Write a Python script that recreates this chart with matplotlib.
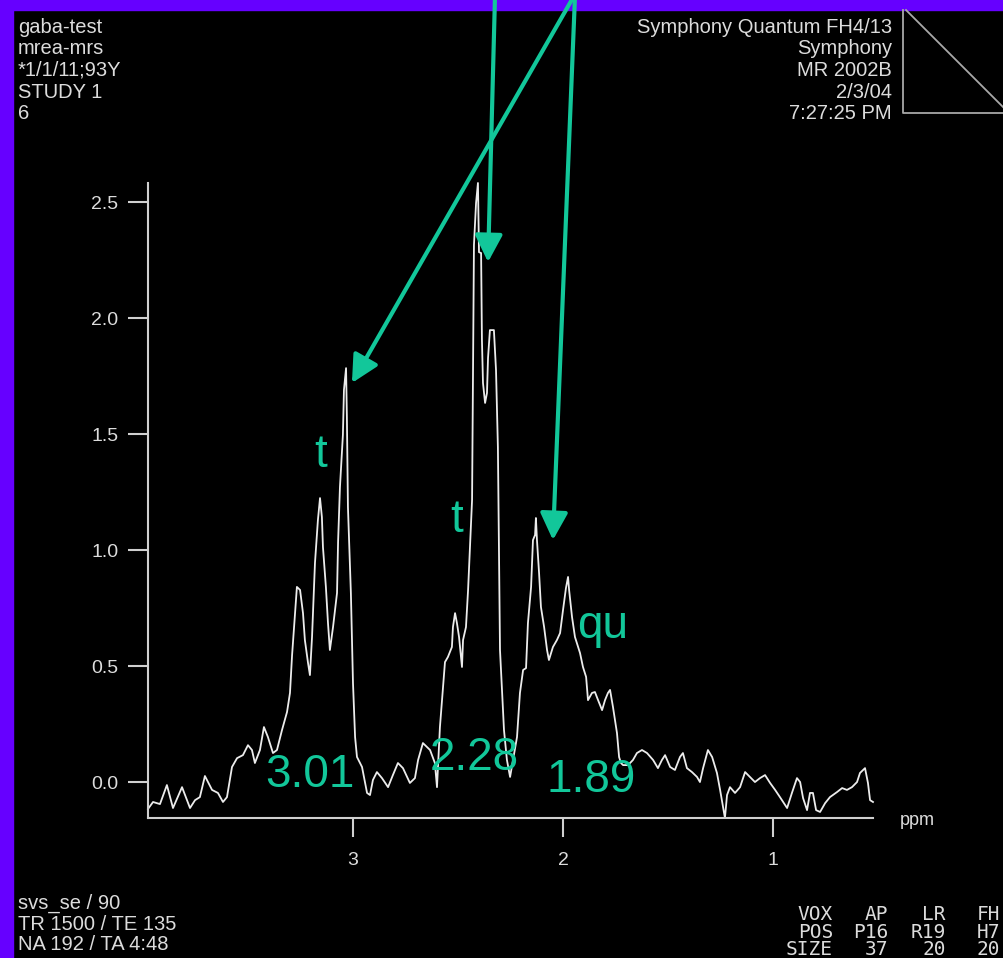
#Espectro MRS (gaba-test) - recreacion
import matplotlib
matplotlib.use('Agg')
import matplotlib.pyplot as plt
from matplotlib.patches import Rectangle
from matplotlib.lines import Line2D

#Datos del espectro
ppm = [3.976, 3.952, 3.919, 3.886, 3.857, 3.814, 3.776, 3.752, 3.729, 3.705,
       3.671, 3.643, 3.619, 3.600, 3.576, 3.552, 3.524, 3.500, 3.481, 3.467,
       3.443, 3.424, 3.405, 3.381, 3.362, 3.338, 3.314, 3.300, 3.290, 3.276,
       3.267, 3.252, 3.238, 3.229, 3.214, 3.205, 3.195, 3.181, 3.167, 3.157,
       3.148, 3.143, 3.129, 3.119, 3.110, 3.095, 3.076, 3.071, 3.062, 3.048,
       3.043, 3.033, 3.029, 3.024, 3.010, 3.000, 2.990, 2.981, 2.957, 2.933,
       2.919, 2.905, 2.886, 2.862, 2.833, 2.810, 2.786, 2.762, 2.729, 2.705,
       2.690, 2.667, 2.633, 2.610, 2.600, 2.586, 2.571, 2.562, 2.548, 2.529,
       2.524, 2.514, 2.505, 2.495, 2.481, 2.476, 2.462, 2.452, 2.433, 2.429,
       2.424, 2.414, 2.405, 2.400, 2.390, 2.386, 2.381, 2.371, 2.362, 2.357,
       2.348, 2.329, 2.319, 2.310, 2.300, 2.290, 2.281, 2.267, 2.252, 2.238,
       2.219, 2.205, 2.190, 2.176, 2.167, 2.152, 2.143, 2.133, 2.129, 2.124,
       2.114, 2.105, 2.090, 2.076, 2.067, 2.048, 2.029, 2.014, 2.000, 1.986,
       1.976, 1.971, 1.957, 1.943, 1.919, 1.905, 1.890, 1.881, 1.862, 1.848,
       1.833, 1.814, 1.800, 1.786, 1.776, 1.762, 1.743, 1.733, 1.724, 1.714,
       1.690, 1.667, 1.648, 1.624, 1.600, 1.571, 1.548, 1.529, 1.514, 1.490,
       1.467, 1.443, 1.429, 1.410, 1.386, 1.362, 1.348, 1.333, 1.310, 1.290,
       1.267, 1.252, 1.238, 1.229, 1.219, 1.205, 1.181, 1.157, 1.133, 1.110,
       1.086, 1.062, 1.038, 1.014, 0.990, 0.967, 0.933, 0.910, 0.886, 0.871,
       0.857, 0.838, 0.824, 0.810, 0.795, 0.776, 0.752, 0.729, 0.695, 0.671,
       0.648, 0.624, 0.600, 0.586, 0.562, 0.548, 0.538, 0.524]
intens = [-0.116, -0.086, -0.095, -0.013, -0.112, -0.022, -0.112, -0.078, -0.065, 0.026,
          -0.034, -0.047, -0.086, -0.065, 0.065, 0.103, 0.116, 0.159, 0.138, 0.082,
          0.138, 0.237, 0.194, 0.125, 0.138, 0.224, 0.302, 0.384, 0.547, 0.728,
          0.841, 0.828, 0.728, 0.612, 0.513, 0.461, 0.625, 0.944, 1.129, 1.224,
          1.142, 1.013, 0.841, 0.685, 0.569, 0.668, 0.815, 1.034, 1.272, 1.496,
          1.690, 1.784, 1.573, 1.185, 0.815, 0.427, 0.194, 0.108, 0.065, -0.047,
          -0.056, 0.009, 0.043, 0.017, -0.022, 0.030, 0.082, 0.060, -0.004, 0.017,
          0.095, 0.168, 0.138, 0.082, -0.022, 0.237, 0.409, 0.517, 0.539, 0.582,
          0.668, 0.728, 0.685, 0.625, 0.496, 0.612, 0.668, 0.828, 1.216, 1.703,
          2.315, 2.496, 2.582, 2.284, 2.280, 1.905, 1.720, 1.634, 1.677, 1.828,
          1.948, 1.948, 1.776, 1.444, 0.569, 0.384, 0.224, 0.095, 0.022, 0.095,
          0.194, 0.384, 0.483, 0.491, 0.685, 0.841, 1.043, 1.065, 1.138, 1.043,
          0.901, 0.754, 0.668, 0.569, 0.526, 0.582, 0.612, 0.642, 0.741, 0.836,
          0.884, 0.828, 0.711, 0.625, 0.556, 0.496, 0.453, 0.353, 0.384, 0.388,
          0.353, 0.310, 0.353, 0.384, 0.397, 0.323, 0.211, 0.108, 0.082, 0.073,
          0.073, 0.095, 0.125, 0.138, 0.125, 0.095, 0.060, 0.095, 0.116, 0.065,
          0.052, 0.108, 0.125, 0.060, 0.043, 0.022, 0.000, 0.060, 0.138, 0.108,
          0.039, -0.034, -0.108, -0.155, -0.056, -0.022, -0.047, -0.022, 0.043, 0.022,
          0.000, 0.017, 0.030, -0.004, -0.034, -0.065, -0.112, -0.047, 0.017, 0.000,
          -0.069, -0.121, -0.047, -0.047, -0.121, -0.129, -0.091, -0.065, -0.043, -0.026,
          -0.034, -0.022, 0.000, 0.039, 0.060, -0.004, -0.078, -0.086]

#Ejes
xticks = [3, 2, 1]
yticks = [0.0, 0.5, 1.0, 1.5, 2.0, 2.5]
ylabels = ['0.0', '0.5', '1.0', '1.5', '2.0', '2.5']

#Etiquetas de picos y multiplicidad
pico_lbl = ['3.01', '2.28', '1.89']
pico_x = [3.207, 2.424, 1.867]
pico_y = [-0.022, 0.052, -0.043]
mult_lbl = ['t', 't', 'qu']
mult_x = [3.152, 2.505, 1.810]
mult_y = [1.358, 1.078, 0.621]

#Flechas: punta sobre el pico, origen arriba fuera de la imagen
flecha_x = [3.005, 2.357, 2.048]
flecha_y = [1.720, 2.241, 1.043]
flecha_origen = [574, 495, 575]

#Textos del equipo
info_izq = ['gaba-test', 'mrea-mrs', '*1/1/11;93Y', 'STUDY 1', '6']
info_der = ['Symphony Quantum FH4/13', 'Symphony', 'MR 2002B', '2/3/04', '7:27:25 PM']
info_abajo = ['svs_se / 90', 'TR 1500 / TE 135', 'NA 192 / TA 4:48']
vox = [['VOX', 'POS', 'SIZE'], ['AP', 'P16', '37'], ['LR', 'R19', '20'], ['FH', 'H7', '20']]

verde = '#12c79a'
gris = '#dcdcdc'
W, H = 1004, 958

fig = plt.figure(figsize=(W/100, H/100), dpi=100, facecolor='black')
#Bordes morados
fig.patches.append(Rectangle((0, 1-10/H), 1, 10/H, transform=fig.transFigure,
                             color='#6600ff', zorder=-1))
fig.patches.append(Rectangle((0, 0), 13/W, 1, transform=fig.transFigure,
                             color='#6600ff', zorder=-1))

ax = fig.add_axes([148/W, 140/H, 725/W, 635/H])
ax.set_facecolor('black')
ax.plot(ppm, intens, color='#ececec', lw=1.3, clip_on=False)
ax.set_xlim(3.976, 0.524)
ax.set_ylim(-0.155, 2.582)

for s in ['top', 'right']:
    ax.spines[s].set_visible(False)
for s in ['left', 'bottom']:
    ax.spines[s].set_color('#cfcfcf')
    ax.spines[s].set_linewidth(1.5)
ax.set_xticks(xticks)
ax.set_xticklabels([str(t) for t in xticks])
ax.set_yticks(yticks)
ax.set_yticklabels(ylabels)
ax.tick_params(axis='x', direction='out', length=13.5, width=1.5, color='#cfcfcf',
               labelcolor=gris, labelsize=14, pad=11)
ax.tick_params(axis='y', direction='out', length=14.5, width=1.5, color='#cfcfcf',
               labelcolor=gris, labelsize=14, pad=7)
for lb in ax.get_xticklabels() + ax.get_yticklabels():
    lb.set_family('Liberation Sans')

#Anotaciones verdes
for lbl, x, y in zip(pico_lbl, pico_x, pico_y):
    ax.text(x, y, lbl, color=verde, fontsize=33, family='Liberation Sans',
            ha='center', va='baseline', clip_on=False)
for lbl, x, y in zip(mult_lbl, mult_x, mult_y):
    ax.text(x, y, lbl, color=verde, fontsize=33, family='Liberation Sans',
            ha='center', va='baseline', clip_on=False)
for x, y, ox in zip(flecha_x, flecha_y, flecha_origen):
    ax.annotate('', xy=(x, y), xycoords='data', xytext=(ox, H+4),
                textcoords='figure pixels', annotation_clip=False,
                arrowprops=dict(arrowstyle='-|>,head_length=0.55,head_width=0.28',
                                color=verde, lw=3, mutation_scale=30,
                                shrinkA=0, shrinkB=0))

#Textos de cabecera y pie
fig.text(900/W, 1-825/H, 'ppm', color=gris, fontsize=13, family='Liberation Sans',
         ha='left', va='baseline')
for i, t in enumerate(info_izq):
    fig.text(18/W, 1-(33+21.5*i)/H, t, color=gris, fontsize=14.5,
             family='Liberation Sans', ha='left', va='baseline')
for i, t in enumerate(info_der):
    fig.text(892/W, 1-(33+21.5*i)/H, t, color=gris, fontsize=14.5,
             family='Liberation Sans', ha='right', va='baseline')
for i, t in enumerate(info_abajo):
    fig.text(18/W, 1-(909+20.5*i)/H, t, color=gris, fontsize=14.5,
             family='Liberation Sans', ha='left', va='baseline')
col_x = [833, 888, 946, 977]
col_ha = ['right', 'right', 'right', 'left']
for c, col in enumerate(vox):
    for i, t in enumerate(col):
        fig.text(col_x[c]/W, 1-(920+17.5*i)/H, t, color=gris, fontsize=14,
                 family='DejaVu Sans Mono', ha=col_ha[c], va='baseline')

#Caja con diagonal arriba a la derecha
fig.lines.append(Line2D([903/W, 903/W, 1], [1-10/H, 1-113/H, 1-113/H],
                        transform=fig.transFigure, color='#a8a8a8', lw=1.3))
fig.lines.append(Line2D([906/W, 1], [1-10/H, 1-108/H],
                        transform=fig.transFigure, color='#a8a8a8', lw=1.3))

fig.savefig('out.png', dpi=100, facecolor='black')
